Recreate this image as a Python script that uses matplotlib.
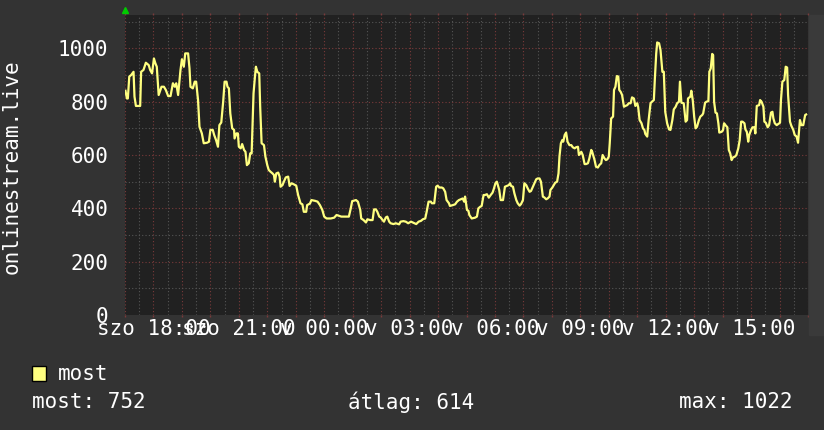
import matplotlib
matplotlib.use("Agg")
import matplotlib.pyplot as plt
from matplotlib import patches

plt.rcParams['font.family'] = ['DejaVu Sans Mono']

# minutes after sat 17:00, viewers
minutes = [1, 4, 6, 9, 13, 18, 20, 23, 32, 34, 39, 44, 50, 53, 57, 61, 64, 67, 71, 77,
           82, 86, 91, 96, 101, 105, 108, 112, 117, 120, 124, 127, 133, 136, 138, 143, 147, 150, 154, 157,
           162, 166, 173, 177, 180, 185, 188, 192, 196, 199, 203, 207, 210, 214, 216, 219, 222, 226, 230, 231,
           235, 238, 240, 244, 247, 251, 254, 257, 261, 264, 267, 271, 274, 276, 279, 283, 285, 288, 293, 296,
           300, 303, 307, 311, 314, 316, 319, 323, 326, 328, 332, 335, 339, 344, 347, 351, 356, 361, 365, 370,
           374, 377, 382, 384, 390, 393, 401, 406, 411, 416, 420, 425, 434, 441, 446, 451, 456, 465, 472, 476,
           479, 487, 491, 496, 498, 503, 508, 511, 517, 522, 525, 529, 532, 536, 539, 543, 546, 550, 553, 557,
           560, 566, 571, 578, 581, 587, 592, 597, 603, 610, 614, 619, 624, 628, 633, 636, 640, 645, 647, 652,
           656, 659, 663, 668, 671, 675, 678, 683, 685, 691, 696, 700, 704, 708, 712, 715, 717, 721, 724, 726,
           731, 738, 742, 745, 749, 752, 756, 759, 763, 767, 771, 775, 778, 781, 784, 787, 789, 792, 797, 801,
           805, 809, 812, 814, 818, 821, 825, 828, 832, 835, 839, 842, 846, 849, 853, 856, 860, 863, 867, 870,
           874, 877, 881, 884, 888, 891, 895, 897, 901, 904, 907, 911, 914, 916, 919, 922, 924, 927, 930, 933,
           937, 941, 944, 948, 951, 955, 957, 960, 962, 965, 969, 972, 976, 979, 983, 985, 988, 990, 993, 997,
           1000, 1004, 1007, 1011, 1014, 1017, 1020, 1022, 1025, 1029, 1031, 1034, 1037, 1040, 1042, 1045, 1048, 1052, 1055, 1059,
           1062, 1066, 1069, 1073, 1076, 1080, 1082, 1085, 1089, 1092, 1095, 1097, 1101, 1104, 1108, 1111, 1115, 1117, 1120, 1122,
           1126, 1129, 1133, 1136, 1139, 1143, 1147, 1150, 1154, 1157, 1161, 1164, 1168, 1170, 1173, 1178, 1182, 1185, 1187, 1192,
           1194, 1197, 1200, 1203, 1206, 1210, 1213, 1217, 1219, 1223, 1226, 1230, 1232, 1235, 1238, 1240, 1242, 1245, 1248, 1251,
           1253, 1258, 1261, 1263, 1266, 1270, 1273, 1276, 1279, 1282, 1286, 1289, 1293, 1296, 1299, 1302, 1306, 1308, 1311, 1314,
           1316, 1320, 1323, 1327, 1329, 1332, 1337, 1339, 1342, 1346, 1348, 1351, 1355, 1358, 1362, 1365, 1367, 1370, 1374, 1377,
           1381, 1383, 1386, 1390, 1393, 1396, 1398, 1402, 1405, 1409, 1412, 1416, 1419, 1423, 1426, 1430, 1434, 1436]
viewers = [841, 812, 812, 894, 900, 912, 819, 784, 784, 912, 919, 946, 937, 919, 906, 962, 944, 931, 825, 856,
           856, 844, 821, 821, 869, 856, 869, 825, 919, 959, 931, 981, 981, 925, 856, 850, 875, 875, 806, 706,
           681, 644, 646, 650, 694, 694, 675, 656, 631, 712, 722, 800, 875, 875, 856, 850, 756, 700, 694, 662,
           681, 681, 631, 625, 641, 619, 612, 562, 569, 606, 606, 831, 894, 931, 912, 906, 781, 644, 637, 594,
           562, 544, 537, 531, 525, 500, 531, 534, 519, 481, 487, 500, 516, 519, 484, 494, 490, 485, 450, 419,
           415, 387, 387, 412, 418, 431, 428, 425, 412, 394, 369, 362, 362, 365, 375, 372, 369, 369, 369, 400,
           427, 431, 425, 394, 362, 356, 347, 359, 356, 356, 396, 396, 387, 369, 366, 356, 350, 366, 369, 350,
           344, 341, 344, 340, 350, 352, 350, 344, 350, 344, 341, 350, 353, 359, 362, 387, 425, 425, 419, 419,
           481, 485, 478, 478, 475, 462, 431, 419, 409, 412, 415, 425, 431, 434, 437, 425, 444, 394, 391, 375,
           362, 365, 369, 400, 406, 409, 450, 450, 453, 440, 450, 459, 475, 494, 500, 481, 469, 431, 431, 481,
           484, 487, 494, 484, 481, 456, 431, 419, 410, 416, 431, 494, 487, 475, 462, 465, 481, 494, 509, 512,
           512, 500, 444, 441, 434, 437, 444, 469, 478, 487, 496, 500, 531, 594, 644, 656, 650, 675, 684, 650,
           637, 637, 629, 625, 629, 631, 600, 606, 612, 600, 566, 566, 569, 587, 619, 612, 594, 581, 556, 553,
           562, 569, 600, 587, 581, 584, 594, 644, 737, 744, 844, 856, 896, 894, 844, 837, 825, 781, 784, 787,
           794, 794, 816, 812, 784, 794, 779, 731, 719, 700, 694, 679, 669, 731, 794, 800, 806, 881, 981, 1022,
           1019, 994, 912, 912, 762, 719, 696, 694, 731, 771, 781, 794, 800, 875, 796, 794, 725, 731, 812, 819,
           841, 806, 744, 700, 706, 731, 744, 750, 756, 796, 800, 802, 912, 925, 979, 975, 800, 759, 756, 719,
           684, 687, 694, 719, 712, 704, 619, 606, 581, 591, 594, 600, 625, 656, 725, 725, 719, 696, 687, 650,
           675, 694, 704, 704, 681, 784, 787, 806, 800, 781, 725, 721, 704, 712, 759, 762, 737, 719, 712, 716,
           721, 806, 875, 881, 931, 928, 825, 725, 709, 694, 675, 669, 646, 731, 712, 712, 750, 752]

tick_minutes = [60, 240, 420, 600, 780, 960, 1140, 1320]
tick_labels = ['szo 18:00', 'szo 21:00', 'v 00:00', 'v 03:00', 'v 06:00', 'v 09:00', 'v 12:00', 'v 15:00']
y_ticks = [0, 200, 400, 600, 800, 1000]
series_name = 'most'
source = 'onlinestream.live'
stat_now, stat_avg, stat_max = 752, 614, 1022

bg = '#333333'
canvas = '#212121'
mgrid = '#7a3a3a'
grid = '#555555'
line_col = '#ffff80'
dots = (0, (1, 2))

fig = plt.figure(figsize=(8.24, 4.30), dpi=100, facecolor=bg)
# lighter strip on the right edge
fig.patches.append(patches.Rectangle((809 / 824, 95 / 430), 15 / 824, 320 / 430,
                                     transform=fig.transFigure, color='#3a3a3a', zorder=0))

ax = fig.add_axes([125 / 824, 115 / 430, 683 / 824, 300 / 430])
ax.set_facecolor(canvas)
ax.set_xlim(0, 1440)
ax.set_ylim(0, 1125)

# grid: hours red, half hours grey
half = [m for m in range(0, 1441, 30) if m % 60]
hours = list(range(0, 1441, 60))
ax.vlines(half, 0, 1125, color=grid, lw=0.8, ls=dots, zorder=1)
ax.vlines(hours, 0, 1125, color=mgrid, lw=0.8, ls=dots, zorder=1)
ax.hlines([100, 300, 500, 700, 900, 1100], 0, 1440, color=grid, lw=0.8, ls=dots, zorder=1)
ax.hlines(y_ticks[1:], 0, 1440, color=mgrid, lw=0.8, ls=dots, zorder=1)
xt = ax.get_xaxis_transform()
ax.vlines(hours, -0.008, 0, color=mgrid, lw=1, transform=xt, clip_on=False)
ax.vlines(hours, 1.0, 1.008, color=mgrid, lw=1, transform=xt, clip_on=False)

ax.plot(minutes, viewers, color=line_col, lw=1.6, zorder=3)

for s in ax.spines.values():
    s.set_visible(False)

ax.set_xticks(tick_minutes, tick_labels)
ax.set_yticks(y_ticks)
ax.tick_params(axis='x', length=0, pad=3, labelsize=15, labelcolor='white')
ax.tick_params(axis='y', length=0, pad=12, labelsize=15, labelcolor='white')

# axis arrows
ax.plot([0], [1.017], marker='^', color='#00cc00', ms=5, transform=ax.transAxes, clip_on=False)
ax.plot([1.01], [0], marker='>', color='#00cc00', ms=5, transform=ax.transAxes, clip_on=False)

fig.text(12 / 824, 1 - 167 / 430, source, rotation=90, ha='center', va='center',
         color='white', fontsize=15)

# legend
fig.patches.append(patches.Rectangle((32 / 824, 1 - 381 / 430), 14 / 824, 15 / 430,
                                     transform=fig.transFigure, facecolor=line_col,
                                     edgecolor='black', lw=1))
fig.text(58 / 824, 1 - 374 / 430, series_name, ha='left', va='center', color='white', fontsize=15)
fig.text(32 / 824, 1 - 402 / 430, f'most: {stat_now}', ha='left', va='center', color='white', fontsize=15)
fig.text(411 / 824, 1 - 402 / 430, f'átlag: {stat_avg}', ha='center', va='center', color='white', fontsize=15)
fig.text(793 / 824, 1 - 402 / 430, f'max: {stat_max}', ha='right', va='center', color='white', fontsize=15)

fig.savefig('out.png', dpi=100, facecolor=bg)
